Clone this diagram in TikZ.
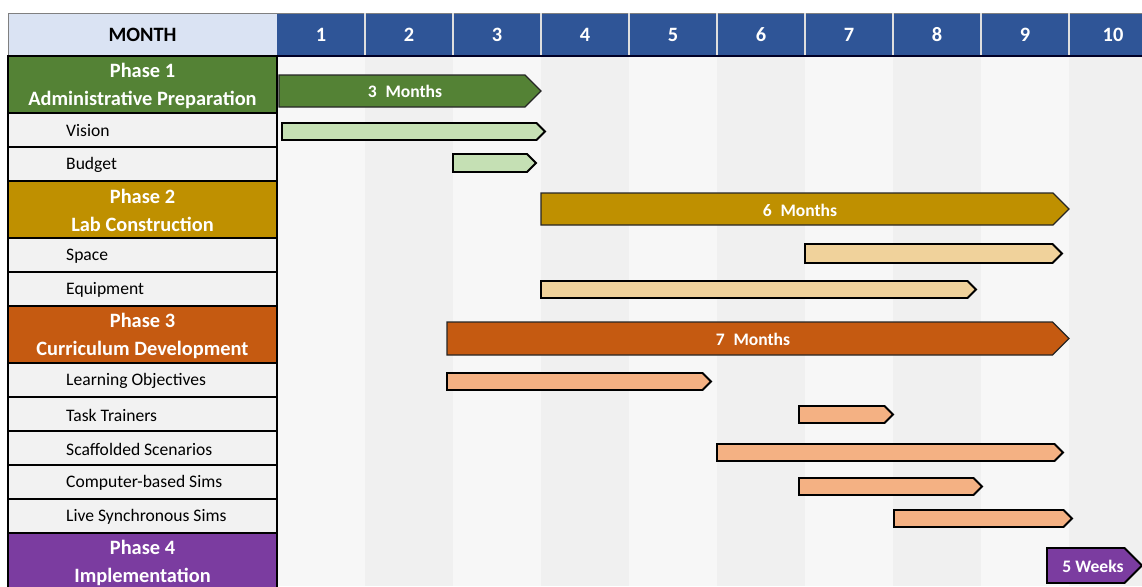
\documentclass[tikz,border=0pt]{standalone}
\usepackage{fontspec}
\setmainfont{Carlito}
\usepackage{xcolor}
\usepackage{tikz}

\definecolor{hdrblue}{HTML}{2F5597}
\definecolor{hdrlight}{HTML}{DAE3F3}
\definecolor{cellgrey}{HTML}{F2F2F2}
\definecolor{colA}{HTML}{F7F7F7}
\definecolor{colB}{HTML}{F0F0F0}
\definecolor{phA}{HTML}{548235}
\definecolor{phAl}{HTML}{C5E0B4}
\definecolor{phB}{HTML}{BF9000}
\definecolor{phBl}{HTML}{F0D29B}
\definecolor{phC}{HTML}{C55A11}
\definecolor{phCl}{HTML}{F4B183}
\definecolor{phD}{HTML}{7B3CA0}

% x1, x2, ytop, ybot; tip is half the height
\newcommand{\gbar}[5]{%
  \draw[#1] (#2,#4) -- ({#3-(#5-#4)/2},#4) -- (#3,{(#4+#5)/2})
    -- ({#3-(#5-#4)/2},#5) -- (#2,#5) -- cycle;}

\tikzset{
  hdr/.style={font=\fontsize{11.6}{13}\selectfont\bfseries},
  mnum/.style={hdr, text=white},
  phlbl/.style={font=\fontsize{11.6}{15.9}\selectfont\bfseries, text=white, align=center},
  tasklbl/.style={font=\fontsize{10}{12}\selectfont, anchor=west},
  barlbl/.style={font=\fontsize{10}{12}\selectfont\bfseries, text=white},
  bigbar/.style={draw=black!85, line width=0.7pt},
  smallbar/.style={draw=black, line width=1.1pt},
}

\begin{document}
\begin{tikzpicture}[x=0.02cm,y=-0.02cm]
\clip (0,0) rectangle (1142,586);
\fill[white] (0,0) rectangle (1142,586);

% month columns
\foreach \m in {1,3,...,9}
  \fill[colA] ({277+88*(\m-1)},56) rectangle ({277+88*\m},586);
\foreach \m in {2,4,...,10}
  \fill[colB] ({277+88*(\m-1)},56) rectangle ({277+88*\m},586);

% header
\filldraw[fill=hdrlight, draw=black!50] (8,13) rectangle (277,56);
\fill[hdrblue] (277,13) rectangle (1142,56);
\draw[black!50] (277,13) -- (1142,13);
\foreach \m in {1,...,9}
  \draw[white!75!gray, line width=0.6pt] ({277+88*\m},13) -- ({277+88*\m},56);
\node[hdr] (month) at (142.5,35) {MONTH};
\foreach \m in {1,...,10}
  \node[mnum] (m\m) at ({277+88*(\m-0.5)},35) {\m};
\draw[black!85!blue, line width=1.2pt] (8,56) -- (1142,56);

% left column
\foreach \yt/\col/\n/\txt in {56/phA/1/Administrative Preparation,
    181/phB/2/Lab Construction, 306/phC/3/Curriculum Development,
    533/phD/4/Implementation} {
  \filldraw[fill=\col, draw=black, line width=0.8pt] (8,\yt) rectangle (277,\yt+57);
  \node[phlbl] (p\n) at (142.5,\yt+29.5) {Phase \n\\\txt};
}
\foreach \yt/\txt in {113/Vision, 147/Budget, 238/Space, 272/Equipment,
    363/Learning Objectives, 397/Task Trainers, 431/Scaffolded Scenarios,
    465/Computer-based Sims, 499/Live Synchronous Sims} {
  \filldraw[fill=cellgrey, draw=black, line width=0.8pt] (8,\yt) rectangle (277,\yt+34);
  \node[tasklbl] (t\yt) at (60,\yt+18) {\txt};
}

% phase 1
\gbar{bigbar, fill=phA}{279}{541}{75}{107}
\node[barlbl] (d1) at (405,91) {3\enspace Months};
\gbar{smallbar, fill=phAl}{282}{545}{123}{140}
\gbar{smallbar, fill=phAl}{453}{536}{154}{172}

% phase 2
\gbar{bigbar, fill=phB}{541}{1069}{193}{225}
\node[barlbl] (d2) at (800,210) {6\enspace Months};
\gbar{smallbar, fill=phBl}{805}{1062}{244}{263}
\gbar{smallbar, fill=phBl}{541}{976}{281}{298}

% phase 3
\gbar{bigbar, fill=phC}{447}{1069}{322}{355}
\node[barlbl] (d3) at (753,339) {7\enspace Months};
\gbar{smallbar, fill=phCl}{447}{711}{373}{390}
\gbar{smallbar, fill=phCl}{799}{893}{406}{423}
\gbar{smallbar, fill=phCl}{717}{1063}{444}{461}
\gbar{smallbar, fill=phCl}{799}{982}{478}{495}
\gbar{smallbar, fill=phCl}{894}{1072}{510}{527}

% phase 4
\gbar{smallbar, fill=phD}{1047}{1142}{548}{583}
\node[barlbl] (d4) at (1093,566) {5 Weeks};
\end{tikzpicture}
\end{document}
